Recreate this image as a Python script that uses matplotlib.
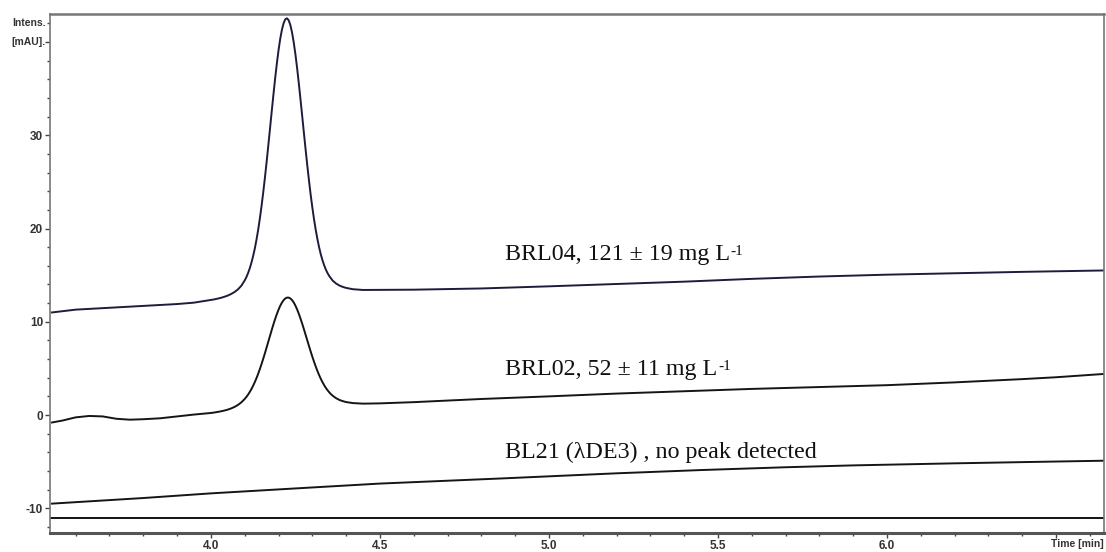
import matplotlib.pyplot as plt
from matplotlib.ticker import MultipleLocator

# Chromatogram traces (time in min, intensity in mAU)
brl04_t = [3.53, 3.60, 3.70, 3.80, 3.90, 3.95, 4.00, 4.01, 4.02, 4.03, 4.04, 4.05, 4.06, 4.07,
           4.08, 4.09, 4.10, 4.105, 4.11, 4.115, 4.12, 4.125, 4.13, 4.135, 4.14, 4.145, 4.15,
           4.155, 4.16, 4.165, 4.17, 4.175, 4.18, 4.185, 4.19, 4.195, 4.20, 4.205, 4.21, 4.215,
           4.22, 4.225, 4.23, 4.235, 4.24, 4.245, 4.25, 4.255, 4.26, 4.265, 4.27, 4.275, 4.28,
           4.285, 4.29, 4.295, 4.30, 4.305, 4.31, 4.315, 4.32, 4.325, 4.33, 4.335, 4.34, 4.345,
           4.35, 4.36, 4.37, 4.38, 4.39, 4.40, 4.42, 4.45, 4.50, 4.60, 4.80, 5.00, 5.20, 5.40,
           5.60, 5.80, 6.00, 6.20, 6.40, 6.64]
brl04_i = [11.0, 11.3, 11.5, 11.7, 11.9, 12.05, 12.34, 12.40, 12.48, 12.57, 12.68, 12.81, 12.98,
           13.19, 13.47, 13.86, 14.43, 14.79, 15.23, 15.74, 16.35, 17.06, 17.87, 18.83, 19.90,
           21.12, 22.46, 23.93, 25.52, 27.20, 28.97, 30.77, 32.59, 34.37, 36.08, 37.67, 39.10,
           40.33, 41.30, 42.01, 42.43, 42.54, 42.33, 41.82, 41.02, 39.96, 38.68, 37.21, 35.58,
           33.86, 32.08, 30.29, 28.52, 26.81, 25.19, 23.66, 22.27, 21.01, 19.87, 18.88, 17.99,
           17.24, 16.60, 16.06, 15.60, 15.22, 14.91, 14.42, 14.11, 13.89, 13.74, 13.63, 13.49,
           13.41, 13.42, 13.44, 13.57, 13.8, 14.05, 14.3, 14.6, 14.85, 15.05, 15.2, 15.35, 15.5]

brl02_t = [3.53, 3.56, 3.60, 3.64, 3.68, 3.72, 3.76, 3.80, 3.85, 3.90, 3.95, 4.00, 4.01, 4.02,
           4.03, 4.04, 4.05, 4.06, 4.07, 4.08, 4.09, 4.10, 4.105, 4.11, 4.115, 4.12, 4.125, 4.13,
           4.135, 4.14, 4.145, 4.15, 4.155, 4.16, 4.165, 4.17, 4.175, 4.18, 4.185, 4.19, 4.195,
           4.20, 4.205, 4.21, 4.215, 4.22, 4.225, 4.23, 4.235, 4.24, 4.245, 4.25, 4.255, 4.26,
           4.265, 4.27, 4.275, 4.28, 4.285, 4.29, 4.295, 4.30, 4.305, 4.31, 4.315, 4.32, 4.325,
           4.33, 4.335, 4.34, 4.345, 4.35, 4.355, 4.36, 4.37, 4.38, 4.39, 4.40, 4.42, 4.45, 4.50,
           4.60, 4.70, 4.80, 5.00, 5.20, 5.40, 5.60, 5.80, 6.00, 6.20, 6.40, 6.50, 6.64]
brl02_i = [-0.8, -0.6, -0.25, -0.1, -0.15, -0.4, -0.5, -0.45, -0.35, -0.15, 0.05, 0.22, 0.27,
           0.33, 0.40, 0.48, 0.58, 0.71, 0.87, 1.08, 1.36, 1.72, 1.94, 2.19, 2.48, 2.79, 3.15,
           3.54, 3.97, 4.44, 4.95, 5.49, 6.06, 6.65, 7.27, 7.89, 8.51, 9.13, 9.73, 10.29, 10.82,
           11.29, 11.71, 12.05, 12.31, 12.50, 12.59, 12.59, 12.50, 12.33, 12.07, 11.73, 11.33,
           10.86, 10.35, 9.80, 9.22, 8.62, 8.02, 7.42, 6.83, 6.26, 5.72, 5.21, 4.73, 4.29, 3.89,
           3.53, 3.20, 2.91, 2.66, 2.44, 2.24, 2.08, 1.81, 1.62, 1.49, 1.39, 1.28, 1.22, 1.25,
           1.38, 1.55, 1.72, 2.0, 2.3, 2.55, 2.8, 3.0, 3.2, 3.5, 3.85, 4.05, 4.4]

bl21_t = [3.53, 3.80, 4.00, 4.26, 4.50, 4.86, 5.20, 5.45, 5.70, 5.90, 6.20, 6.40, 6.64]
bl21_i = [-9.5, -8.9, -8.4, -7.85, -7.35, -6.8, -6.25, -5.9, -5.6, -5.4, -5.18, -5.05, -4.9]

labels = ["BRL04, 121 ± 19 mg L", "BRL02, 52 ± 11 mg L", "BL21 (λDE3) , no peak detected"]
label_sup = ["-1", "-1", ""]
label_t = [4.87, 4.87, 4.87]
label_i = [16.6, 4.3, -4.6]

fig = plt.figure(figsize=(11.06, 5.52), dpi=100)
ax = fig.add_axes([50 / 1106, 19 / 552, 1054 / 1106, 519 / 552])

ax.plot(brl04_t, brl04_i, color="#1c1c3c", lw=1.4)
ax.plot(brl02_t, brl02_i, color="#151515", lw=1.4)
ax.plot(bl21_t, bl21_i, color="#151515", lw=1.4)
ax.axhline(-11, color="black", lw=1.3)

for s, sup, t, i in zip(labels, label_sup, label_t, label_i):
    txt = ax.text(t, i, s, fontsize=17.3, family="Liberation Serif", color="#111111",
                  ha="left", va="baseline")
    if sup:
        ax.annotate(sup, xy=(1.0, 0.97), xycoords=txt, xytext=(0.5, 0),
                    textcoords="offset points", ha="left", va="top",
                    fontsize=11, family="Liberation Serif", color="#111111")

ax.set_xlim(3.524, 6.642)
ax.set_ylim(-12.65, 43.0)

ax.set_xticks([4.0, 4.5, 5.0, 5.5, 6.0, 6.5])
ax.set_xticklabels(["4.0", "4.5", "5.0", "5.5", "6.0", ""])
ax.xaxis.set_minor_locator(MultipleLocator(0.1))
ax.set_yticks([-10, 0, 10, 20, 30, 40])
ax.set_yticklabels(["-10", "0", "10", "20", "30", ""])
ax.yaxis.set_minor_locator(MultipleLocator(2))

for lab in ax.get_xticklabels() + ax.get_yticklabels():
    lab.set_family("Liberation Sans")
    lab.set_fontweight("bold")
    lab.set_fontsize(8.5)
    lab.set_color("#333333")

ax.tick_params(axis="both", which="major", length=3.5, width=1.0, color="#444444", pad=1.5)
ax.tick_params(axis="both", which="minor", length=2.0, width=1.0, color="#444444")

for side in ["left", "right", "top"]:
    ax.spines[side].set_color("#777777")
    ax.spines[side].set_linewidth(1.2)
ax.spines["top"].set_linewidth(1.8)
ax.spines["bottom"].set_color("#555555")
ax.spines["bottom"].set_linewidth(2.2)

ax.text(-0.004, 42, "Intens.", transform=ax.get_yaxis_transform(), ha="right", va="center",
        fontsize=7.5, family="Liberation Sans", fontweight="bold", color="#333333")
ax.text(-0.004, 40, "[mAU].", transform=ax.get_yaxis_transform(), ha="right", va="center",
        fontsize=7.5, family="Liberation Sans", fontweight="bold", color="#333333")
ax.text(1.0, -0.012, "Time [min]", transform=ax.transAxes, ha="right", va="top",
        fontsize=7.5, family="Liberation Sans", fontweight="bold", color="#333333")

fig.savefig("out.png", dpi=100)
